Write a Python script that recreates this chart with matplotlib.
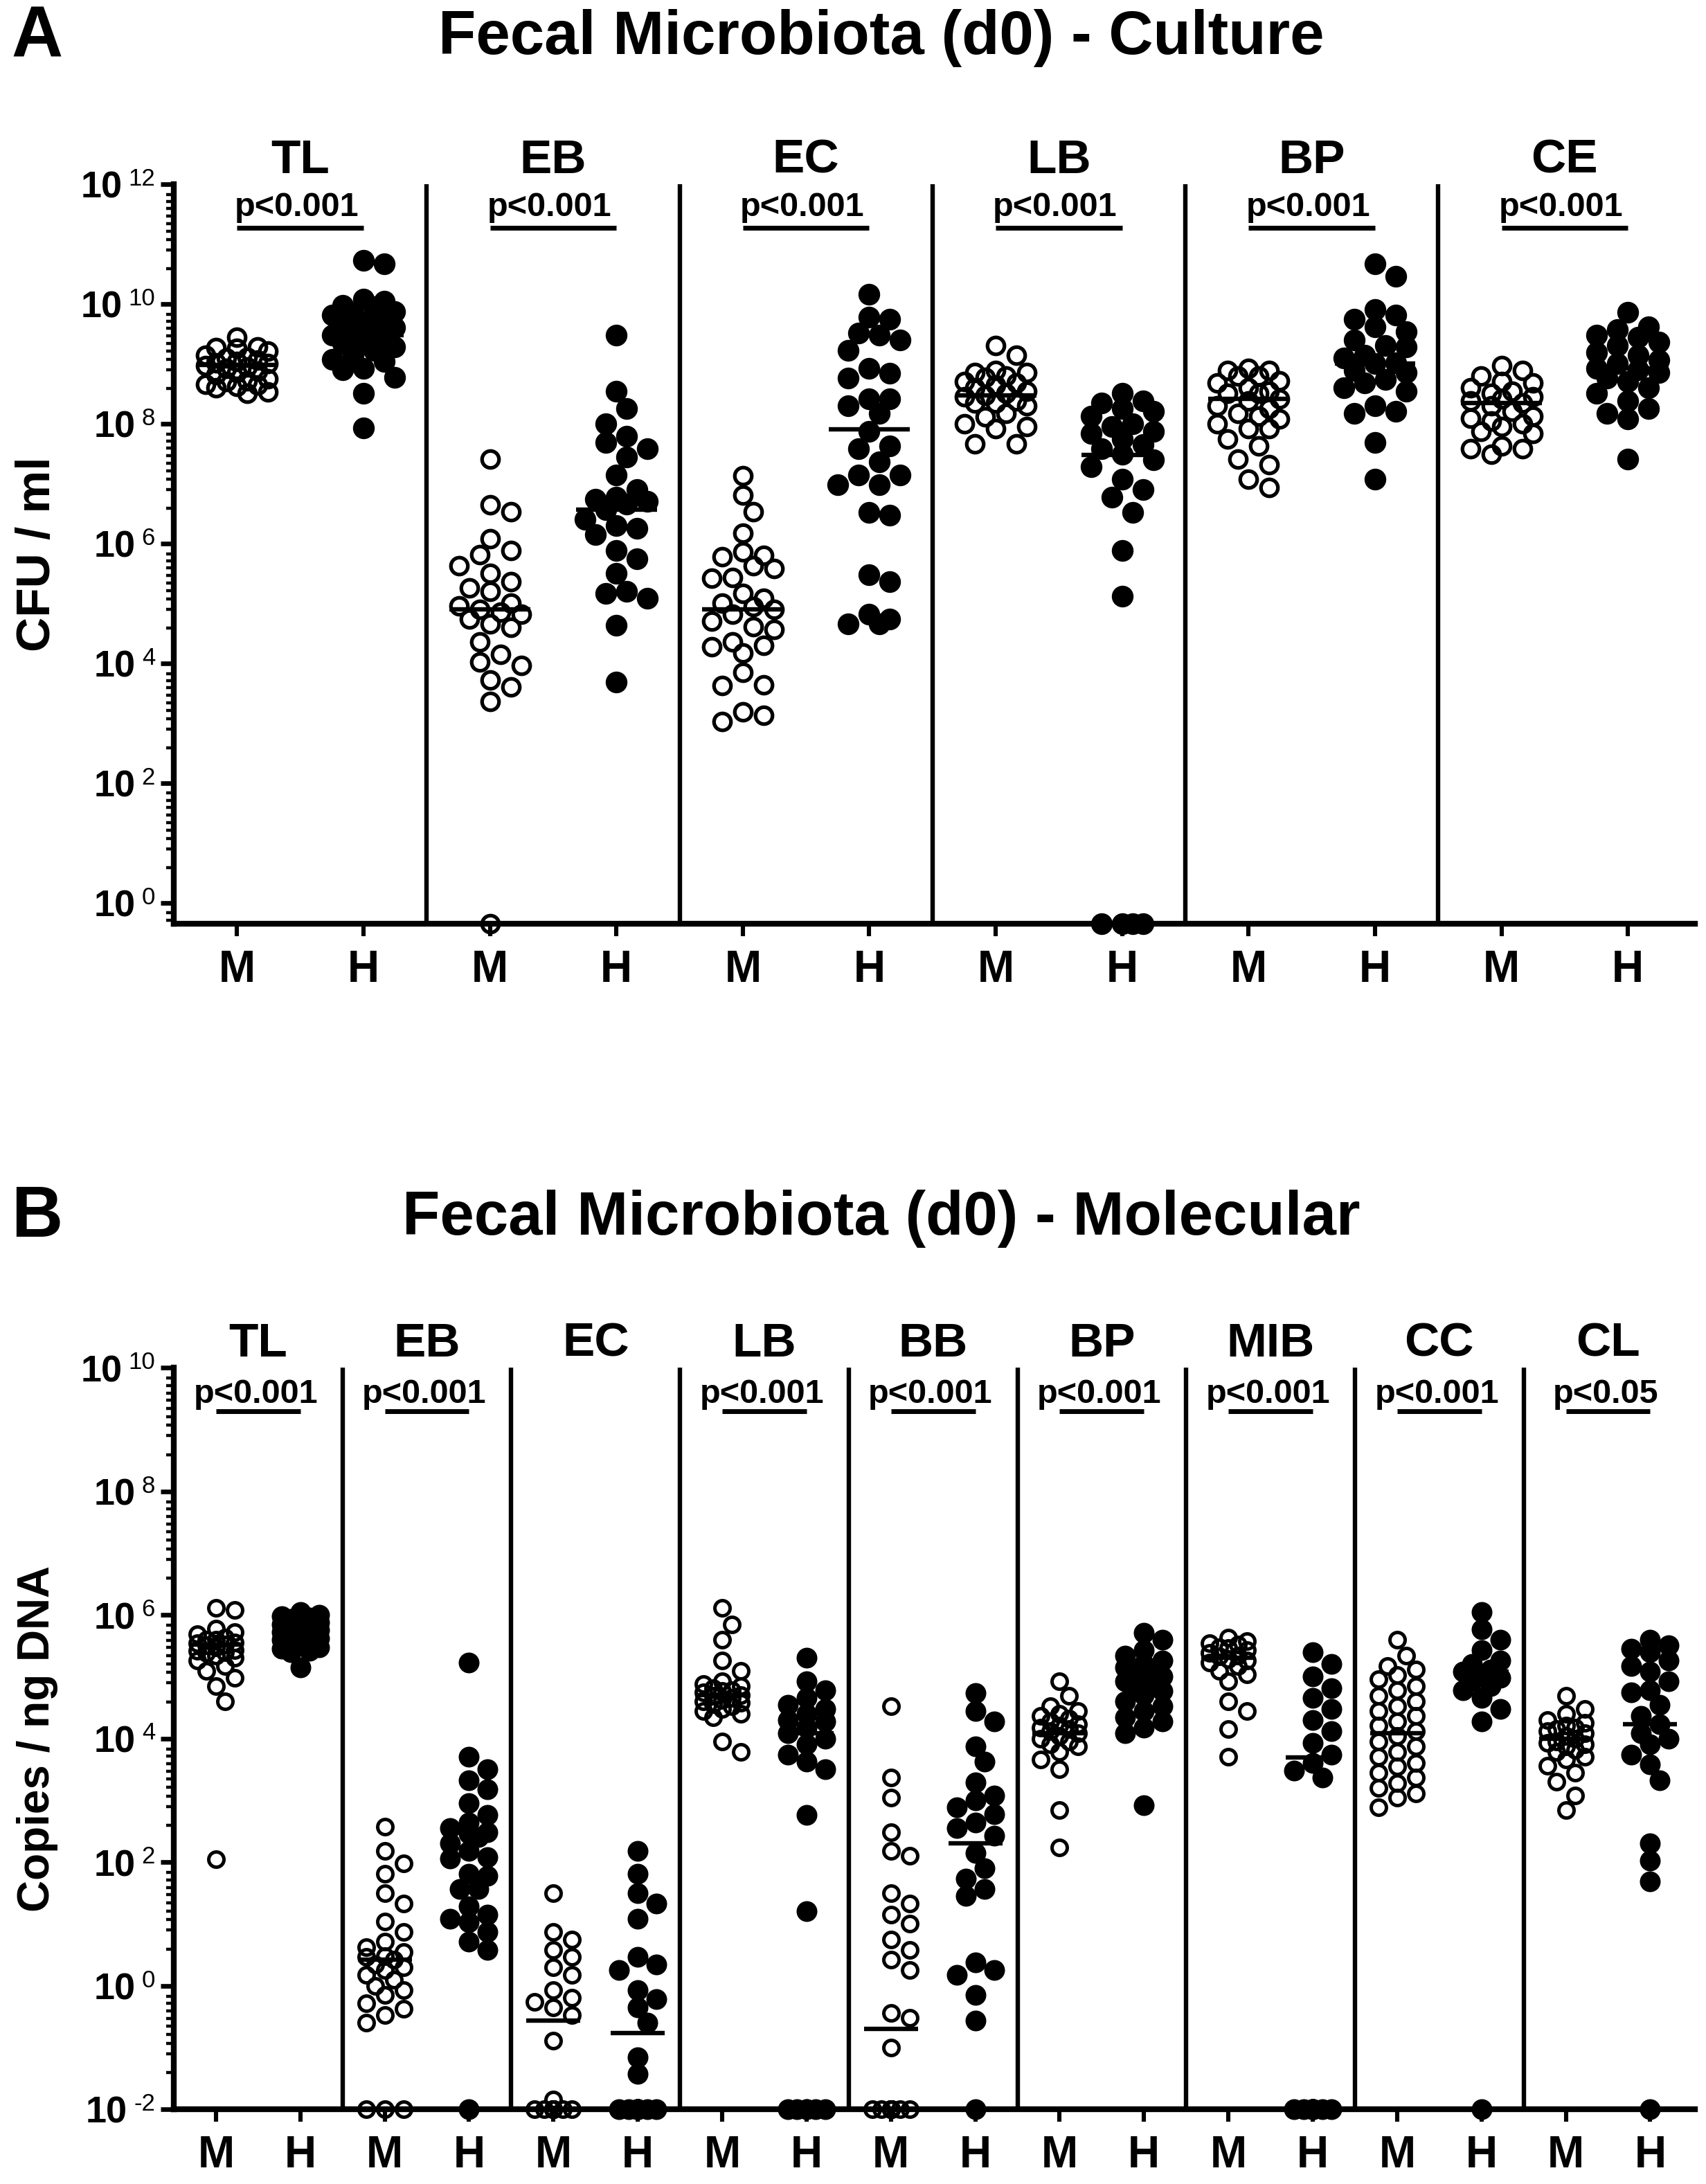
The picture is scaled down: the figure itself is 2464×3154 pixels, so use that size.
import numpy as np
import matplotlib
matplotlib.use("Agg")
import matplotlib.pyplot as plt
import matplotlib.transforms as mtransforms

plt.rcParams['font.family'] = ['Liberation Sans', 'DejaVu Sans']

# ------------------------------------------------------------------ data
# Panel A : culture (CFU / ml); 0 = below detection (drawn on the axis)
a_categories = ['TL', 'EB', 'EC', 'LB', 'BP', 'CE']
a_pvalues = ['p<0.001'] * 6

a_tl_m = [2.8e9, 1.9e9, 1.85e9, 1.8e9, 1.65e9, 1.4e9, 1.3e9, 1.25e9, 1.15e9, 1.1e9, 1.05e9, 1.0e9,
          9.3e8, 8.9e8, 8.5e8, 7.6e8, 7.1e8, 6.6e8, 5.6e8, 5.2e8, 5.0e8, 4.6e8, 4.4e8, 4.2e8, 4.0e8, 3.4e8, 3.2e8]
a_tl_h = [5.4e10, 4.7e10, 1.2e10, 1.1e10, 9.5e9, 9e9, 7.5e9, 7e9, 6.5e9, 5.5e9, 5e9, 4.6e9, 4e9, 3.7e9,
          3.3e9, 3e9, 2.8e9, 2.5e9, 2.2e9, 1.9e9, 1.7e9, 1.4e9, 1.2e9, 1.1e9, 8.5e8, 8e8, 6e8, 3.2e8, 8.5e7]
a_eb_m = [2.6e7, 4.4e6, 3.4e6, 1.2e6, 7.6e5, 6.5e5, 4.3e5, 3.2e5, 2.3e5, 1.8e5, 1.6e5, 1.0e5, 9e4, 8e4,
          7.2e4, 6.6e4, 5.5e4, 4.5e4, 4e4, 2.3e4, 1.4e4, 1.05e4, 9.3e3, 5.3e3, 4e3, 2.3e3, 0]
a_eb_h = [3e9, 3.5e8, 1.8e8, 1e8, 6.2e7, 4.8e7, 3.8e7, 2.8e7, 1.4e7, 8e6, 6e6, 5.5e6, 5e6, 4.5e6, 3.7e6,
          2.5e6, 2e6, 1.8e6, 1.4e6, 7.6e5, 5.6e5, 3.2e5, 1.6e5, 1.45e5, 1.2e5, 4.3e4, 4.9e3]
a_ec_m = [1.35e7, 6.5e6, 3.4e6, 1.5e6, 7.2e5, 6.3e5, 6e5, 4.3e5, 3.8e5, 2.7e5, 2.6e5, 1.45e5, 1.2e5, 1e5,
          8.9e4, 7.9e4, 6.6e4, 5e4, 4.1e4, 3.7e4, 2.3e4, 2e4, 1.9e4, 1.5e4, 7e3, 4.4e3, 4.3e3, 1.55e3,
          1.35e3, 1.05e3]
a_ec_h = [1.45e10, 6e9, 5.5e9, 3.3e9, 3e9, 2.5e9, 1.7e9, 8.5e8, 7e8, 5.8e8, 2.6e8, 2.6e8, 2e8, 1.5e8,
          7.5e7, 4.2e7, 3.8e7, 2.3e7, 1.4e7, 1.4e7, 9.5e6, 9.5e6, 3.3e6, 3e6, 3e5, 2.3e5, 6.6e4, 5.4e4,
          4.5e4, 4.5e4]
a_lb_m = [2e9, 1.4e9, 7.8e8, 7.1e8, 7.1e8, 6.3e8, 6e8, 5e8, 4.8e8, 4.4e8, 4e8, 3.5e8, 3.2e8, 3e8, 2.8e8,
          2.4e8, 2.2e8, 2.2e8, 2e8, 1.5e8, 1.3e8, 1e8, 9e7, 8.3e7, 4.6e7, 4.6e7]
a_lb_h = [3.2e8, 2.4e8, 2.2e8, 1.8e8, 1.6e8, 1.35e8, 1e8, 9e7, 7.5e7, 6.8e7, 5.6e7, 4.5e7, 3.8e7, 3.1e7,
          2.5e7, 1.9e7, 1.2e7, 8e6, 5.9e6, 3.3e6, 7.6e5, 1.3e5, 0, 0, 0, 0]
a_bp_m = [8.5e8, 7.8e8, 7.8e8, 6.3e8, 6.3e8, 5.2e8, 4.8e8, 4e8, 3.5e8, 3.2e8, 3.2e8, 2.6e8, 2.4e8, 2e8,
          1.8e8, 1.5e8, 1.35e8, 1.2e8, 1e8, 8.3e7, 8.3e7, 5.6e7, 4.2e7, 2.6e7, 2.1e7, 1.2e7, 8.7e6]
a_bp_h = [4.7e10, 2.9e10, 8e9, 6.6e9, 5.5e9, 4.1e9, 3.4e9, 2.5e9, 2e9, 1.9e9, 1.4e9, 1.26e9, 1.05e9,
          1e9, 7.8e8, 7.1e8, 5.5e8, 4.8e8, 4e8, 3.5e8, 2e8, 1.6e8, 1.5e8, 4.8e7, 1.2e7]
a_ce_m = [9.3e8, 7.8e8, 6.3e8, 5e8, 4.8e8, 4e8, 3.5e8, 3.2e8, 2.8e8, 2.6e8, 2.4e8, 2.2e8, 2e8, 1.6e8,
          1.35e8, 1.25e8, 1.1e8, 1e8, 9e7, 7.4e7, 6.8e7, 4.2e7, 3.8e7, 3.8e7, 3.1e7]
a_ce_h = [7.2e9, 4.1e9, 3.7e9, 3e9, 2.75e9, 2.3e9, 2e9, 1.55e9, 1.4e9, 1.15e9, 1e9, 8.5e8, 7.9e8, 7.1e8,
          5.8e8, 5e8, 4e8, 3.2e8, 2.4e8, 1.8e8, 1.5e8, 1.2e8, 2.6e7]
a_median_m = [9.5e8, 8e4, 8e4, 3e8, 2.6e8, 2.2e8]
a_median_h = [3e9, 3.7e6, 8e7, 3e7, 1e9, 8.5e8]

# Panel B : molecular (copies / ng DNA)
b_categories = ['TL', 'EB', 'EC', 'LB', 'BB', 'BP', 'MIB', 'CC', 'CL']
b_pvalues = ['p<0.001', 'p<0.001', '', 'p<0.001', 'p<0.001', 'p<0.001', 'p<0.001', 'p<0.001', 'p<0.05']

b_tl_m = [1.3e6, 1.2e6, 6e5, 5.2e5, 4.8e5, 4.3e5, 4e5, 3.9e5, 3.6e5, 3.5e5, 3.3e5, 3.2e5, 3e5, 2.7e5,
          2.6e5, 2.5e5, 2.4e5, 2.2e5, 2e5, 1.8e5, 1.5e5, 1.25e5, 9.5e4, 7e4, 4e4, 110]
b_tl_h = [1.1e6, 1.0e6, 9.5e5, 9e5, 8.5e5, 8e5, 7.5e5, 7e5, 6.5e5, 6.2e5, 6e5, 5.6e5, 5.3e5, 5e5, 4.7e5,
          4.4e5, 4.2e5, 4e5, 3.7e5, 3.4e5, 3.2e5, 3e5, 2.8e5, 2.6e5, 2.5e5, 1.4e5]
b_eb_m = [370, 150, 95, 65, 31, 21, 11, 7.4, 5.1, 4.2, 3.5, 3.0, 2.9, 2.6, 2.2, 2.0, 1.8, 1.5, 1.25, 1.0,
          0.85, 0.7, 0.52, 0.42, 0.33, 0.25, 0, 0, 0]
b_eb_h = [1.7e5, 5e3, 3.2e3, 2.1e3, 1.5e3, 900, 580, 440, 350, 300, 290, 250, 200, 150, 120, 115, 65, 60,
          37, 37, 19, 14, 12, 10.7, 7.4, 5.1, 3.8, 0]
b_ec_m = [31, 7.4, 5.6, 3.8, 2.9, 2.0, 1.5, 0.85, 0.63, 0.55, 0.44, 0.33, 0.13, 0.0145,
          0, 0, 0, 0, 0, 0, 0, 0, 0, 0]
b_ec_h = [150, 65, 31, 21, 12, 2.9, 2.2, 1.8, 0.85, 0.6, 0.44, 0.25, 0.07, 0.037,
          0, 0, 0, 0, 0, 0, 0, 0, 0, 0, 0, 0, 0]
b_lb_m = [1.3e6, 7e5, 3.9e5, 1.8e5, 1.25e5, 8.5e4, 7.5e4, 7e4, 6.5e4, 6e4, 5.9e4, 5.5e4, 5e4, 4.9e4,
          4.5e4, 4.2e4, 4e4, 3.8e4, 3.6e4, 3.3e4, 3e4, 2.8e4, 2.5e4, 2.2e4, 9e3, 6e3]
b_lb_h = [2e5, 8.5e4, 6e4, 4.5e4, 3.5e4, 3e4, 2.5e4, 2e4, 1.9e4, 1.5e4, 1.2e4, 1e4, 8e3, 5.5e3, 4.2e3,
          3.2e3, 580, 16, 0, 0, 0, 0, 0, 0]
b_bb_m = [3.3e4, 2.3e3, 1.1e3, 300, 150, 125, 31, 21, 14, 10, 5.6, 3.8, 2.6, 1.8, 0.36, 0.3, 0.1,
          0, 0, 0, 0, 0, 0, 0, 0, 0, 0, 0, 0]
b_bb_h = [5.4e4, 2.8e4, 1.9e4, 7.4e3, 4.2e3, 1.95e3, 1.2e3, 1e3, 760, 600, 440, 350, 270, 140, 80, 54,
          37, 28, 2.4, 1.8, 1.5, 0.7, 0.27, 0]
b_bp_m = [8.5e4, 4.9e4, 3.3e4, 2.8e4, 2.5e4, 2.3e4, 2.1e4, 1.9e4, 1.7e4, 1.6e4, 1.5e4, 1.4e4, 1.3e4,
          1.2e4, 1.1e4, 1e4, 9e3, 8e3, 7.4e3, 6e3, 4.6e3, 3.2e3, 690, 170]
b_bp_h = [5.1e5, 3.9e5, 2.7e5, 2.2e5, 1.8e5, 1.6e5, 1.4e5, 1.26e5, 1.1e5, 1e5, 9e4, 8.5e4, 7e4, 6.5e4,
          5.9e4, 5e4, 4e4, 3.3e4, 2.8e4, 2.2e4, 1.9e4, 1.5e4, 1.2e4, 830]
b_mib_m = [4.3e5, 3.8e5, 3.5e5, 3.3e5, 3e5, 2.9e5, 2.7e5, 2.4e5, 2.2e5, 2.1e5, 1.9e5, 1.8e5, 1.7e5,
           1.5e5, 1.25e5, 1.1e5, 8.5e4, 4e4, 2.8e4, 1.4e4, 5e3]
b_mib_h = [2.5e5, 1.6e5, 1e5, 6.5e4, 4.5e4, 3e4, 2e4, 1.3e4, 8.5e3, 5.5e3, 4e3, 3e3, 2.3e3,
           0, 0, 0, 0, 0, 0, 0, 0, 0, 0, 0, 0]
b_cc_m = [3.9e5, 2.2e5, 1.5e5, 1.3e5, 1.05e5, 9e4, 7e4, 6e4, 4.9e4, 4e4, 3.3e4, 2.8e4, 2.3e4, 1.9e4,
          1.6e4, 1.3e4, 1.1e4, 9e3, 7.4e3, 6e3, 5e3, 4e3, 3.5e3, 2.8e3, 2.3e3, 1.9e3, 1.6e3, 1.3e3,
          1.1e3, 760]
b_cc_h = [1.1e6, 5.8e5, 3.9e5, 2.7e5, 1.8e5, 1.6e5, 1.3e5, 1.2e5, 1.1e5, 9.5e4, 8.5e4, 7e4, 6e4, 4.5e4,
          3e4, 1.9e4, 0]
b_cl_m = [4.9e4, 3e4, 2.5e4, 2e4, 1.8e4, 1.6e4, 1.5e4, 1.4e4, 1.3e4, 1.2e4, 1.1e4, 1e4, 9e3, 8.5e3,
          8e3, 7.5e3, 6.5e3, 6e3, 5e3, 4.5e3, 3.6e3, 2.8e3, 2e3, 1.2e3, 690]
b_cl_h = [3.9e5, 3.2e5, 2.8e5, 2.5e5, 1.8e5, 1.5e5, 1.2e5, 8.5e4, 6e4, 5.5e4, 3.5e4, 2.3e4, 1.7e4,
          1.2e4, 1e4, 8e3, 5.5e3, 3.8e3, 2.1e3, 200, 105, 49, 0]
b_median_m = [3.3e5, 2.6, 0.27, 5e4, 0.2, 1.2e4, 2e5, 1.2e4, 1e4]
b_median_h = [5.5e5, 300, 0.17, 1.2e4, 200, 9e4, 4.9e3, 1.2e5, 1.7e4]

a_m_groups = [a_tl_m, a_eb_m, a_ec_m, a_lb_m, a_bp_m, a_ce_m]
a_h_groups = [a_tl_h, a_eb_h, a_ec_h, a_lb_h, a_bp_h, a_ce_h]
b_m_groups = [b_tl_m, b_eb_m, b_ec_m, b_lb_m, b_bb_m, b_bp_m, b_mib_m, b_cc_m, b_cl_m]
b_h_groups = [b_tl_h, b_eb_h, b_ec_h, b_lb_h, b_bb_h, b_bp_h, b_mib_h, b_cc_h, b_cl_h]

# minor tick spacing below each labelled decade (decades)
minor_offsets = [0.17, 0.29, 0.41, 0.53, 0.66, 0.79, 0.93, 1.1, 1.41]

# ------------------------------------------------------------------ figure
W, H, DPI = 2464, 3154, 200
fig = plt.figure(figsize=(W / DPI, H / DPI), dpi=DPI)
fig.patch.set_facecolor('white')
renderer = fig.canvas.get_renderer()


def fx(x):
    return x / W


def fy(y):
    return 1 - y / H


def swarm(ax, xc, vals, floor, diam, halfw):
    v = np.asarray(vals, dtype=float)
    v = np.where(v > 0, v, floor)
    pts = ax.transData.transform(np.column_stack([np.full(len(v), float(xc)), v]))
    yp = pts[:, 1]
    unit = ax.transData.transform((xc + 1.0, v[0]))[0] - pts[0, 0]
    step = diam / 2.0
    cands = [0.0]
    k = 1
    while k * step <= halfw + 1e-6:
        cands += [k * step, -k * step]
        k += 1
    order = np.argsort(-yp, kind='stable')
    px_, py_ = [], []
    off = np.zeros(len(v))
    for i in order:
        best, bestd = 0.0, -1.0
        for c in cands:
            if px_:
                d = np.min(np.hypot(np.array(px_) - c, np.array(py_) - yp[i]))
            else:
                d = np.inf
            if d >= diam * 0.9:
                best = c
                break
            if d > bestd:
                bestd, best = d, c
        off[i] = best
        px_.append(best)
        py_.append(yp[i])
    return xc + off / unit, v


def draw_panel(top_px, bot_px, cats, pvals, mg, hg, med_m, med_h, ylim, majors,
               ylabel, ylabel_size, ms_o, ms_f, mew, diam, halfw, pt_base, pl_y, title, letter,
               title_y):
    left_px, right_px = 251, 2448
    ax = fig.add_axes([fx(left_px), fy(bot_px), fx(right_px - left_px), (bot_px - top_px) / H])
    n = len(cats)
    ax.set_yscale('log')
    ax.set_xlim(-0.5, 2 * n - 0.47)
    ax.set_ylim(*ylim)
    for s in ['top', 'right']:
        ax.spines[s].set_visible(False)
    for s in ['left', 'bottom']:
        ax.spines[s].set_linewidth(3.0)
        ax.spines[s].set_capstyle('projecting')
    ax.set_yticks([10.0 ** e for e in majors])
    ax.set_yticklabels([])
    minors = [10.0 ** (e - o) for e in majors for o in minor_offsets]
    ax.set_yticks([t for t in minors if ylim[0] < t < ylim[1]], minor=True)
    ax.yaxis.set_minor_formatter(plt.NullFormatter())
    ax.tick_params(axis='y', which='major', length=7, width=2.4)
    ax.tick_params(axis='y', which='minor', length=4, width=1.6)
    # tick labels "10" with a superscript exponent
    ytr = mtransforms.blended_transform_factory(ax.transAxes, ax.transData)
    for e in majors:
        t_exp = ax.text(0, 10.0 ** e, '%d' % e, ha='right', va='baseline', fontsize=12.5,
                        transform=ytr + mtransforms.ScaledTranslation(-27 / DPI, -2 / DPI,
                                                                      fig.dpi_scale_trans))
        w = t_exp.get_window_extent(renderer).width
        ax.text(0, 10.0 ** e, '10', ha='right', va='baseline', fontsize=19.5, fontweight='bold',
                transform=ytr + mtransforms.ScaledTranslation((-27 - w - 9) / DPI, -20 / DPI,
                                                              fig.dpi_scale_trans))
    xt = list(range(2 * n))
    ax.set_xticks(xt)
    ax.set_xticklabels(['M', 'H'] * n, fontsize=23, fontweight='bold')
    ax.tick_params(axis='x', which='major', length=6.5, width=2.2, pad=7)
    ax.tick_params(axis='x', which='minor', length=0)
    for i in range(n - 1):
        ax.axvline(2 * i + 1.5, color='black', lw=2.3, zorder=1)
    blend = mtransforms.blended_transform_factory(ax.transData, ax.transAxes)
    for i, cat in enumerate(cats):
        xm, xh = 2 * i, 2 * i + 1
        ax.text((xm + xh) / 2, 1.032, cat, transform=blend, ha='center', va='center',
                fontsize=25, fontweight='bold')
        if pvals[i]:
            ax.text((xm + xh) / 2 - 0.03, pt_base, pvals[i], transform=blend, ha='center',
                    va='baseline', fontsize=17.5, fontweight='bold')
            ax.plot([xm, xh], [pl_y, pl_y], transform=blend, color='black', lw=2.5,
                    solid_capstyle='butt', clip_on=False)
        xs, ys = swarm(ax, xm, mg[i], ylim[0], diam, halfw)
        ax.plot(xs, ys, 'o', ms=ms_o, mfc='none', mec='black', mew=mew, clip_on=False, zorder=3)
        xs, ys = swarm(ax, xh, hg[i], ylim[0], diam, halfw)
        ax.plot(xs, ys, 'o', ms=ms_f, mfc='black', mec='black', mew=0, clip_on=False, zorder=3)
        for xc, mv in [(xm, med_m[i]), (xh, med_h[i])]:
            ax.plot([xc - 0.32, xc + 0.32], [mv, mv], color='black', lw=2.3, zorder=4,
                    solid_capstyle='butt')
    fig.text(fx(54), fy((top_px + bot_px) / 2), ylabel, rotation=90, ha='center', va='center',
             fontsize=ylabel_size, fontweight='bold')
    fig.text(fx(1273), fy(title_y), title, ha='center', va='center', fontsize=32, fontweight='bold')
    fig.text(fx(16), fy(title_y), letter, ha='left', va='center', fontsize=37, fontweight='bold')
    return ax


draw_panel(266, 1334, a_categories, a_pvalues, a_m_groups, a_h_groups, a_median_m, a_median_h,
           (10 ** -0.35, 1e12), [0, 2, 4, 6, 8, 10, 12], 'CFU / ml', 25,
           8.8, 11.3, 1.9, 30, 56, 0.957, 0.941, 'Fecal Microbiota (d0) - Culture', 'A', 55)

draw_panel(1975, 3046, b_categories, b_pvalues, b_m_groups, b_h_groups, b_median_m, b_median_h,
           (1e-2, 1e10), [-2, 0, 2, 4, 6, 8, 10], 'Copies / ng DNA', 23,
           7.9, 10.8, 1.8, 27, 38, 0.952, 0.941, 'Fecal Microbiota (d0) - Molecular', 'B', 1760)

fig.savefig('out.png', dpi=DPI, facecolor='white')
